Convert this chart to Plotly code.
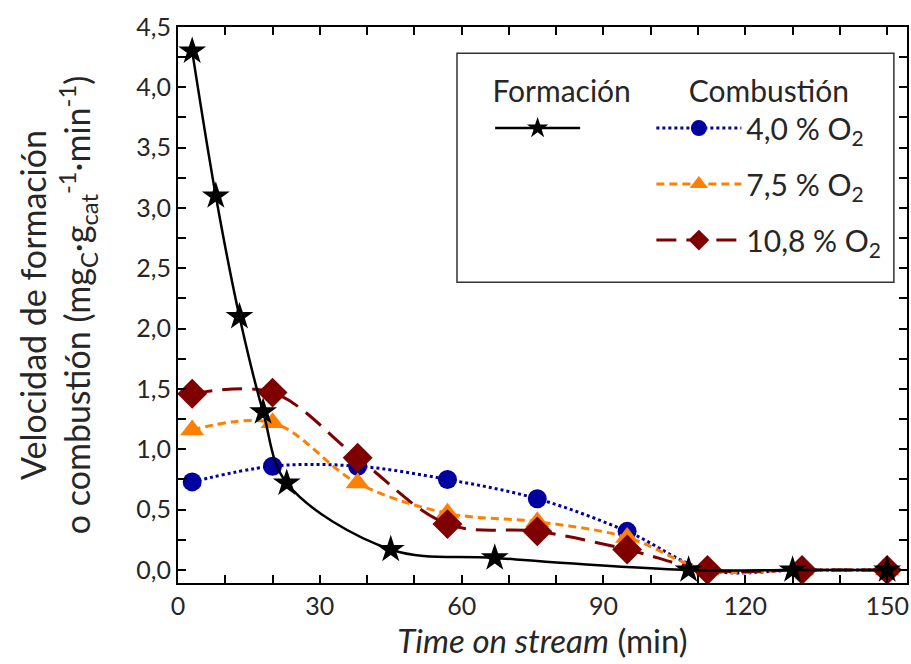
import plotly.graph_objects as go

# Coke formation rate (stars) and combustion rates at three O2 levels
t_form = [3, 8, 13, 18, 23, 45, 67, 108, 130, 150]
v_form = [4.30, 3.10, 2.10, 1.31, 0.72, 0.17, 0.10, 0.0, 0.0, 0.0]

t_comb = [3, 20, 38, 57, 76, 95, 112, 132, 150]
v_o2_40 = [0.73, 0.86, 0.86, 0.75, 0.59, 0.32, 0.0, 0.0, 0.0]
v_o2_75 = [1.16, 1.22, 0.72, 0.47, 0.40, 0.27, 0.0, 0.0, 0.0]
v_o2_108 = [1.46, 1.47, 0.93, 0.38, 0.32, 0.17, 0.0, 0.0, 0.0]

x_ticks = [0, 30, 60, 90, 120, 150]
y_ticks = [0.0, 0.5, 1.0, 1.5, 2.0, 2.5, 3.0, 3.5, 4.0, 4.5]

FONT = "Lato"
TXT = "#262626"

fig = go.Figure()

fig.add_trace(go.Scatter(
    x=t_comb, y=v_o2_40, name="4,0 % O<sub>2</sub>", legend="legend2",
    legendgroup="a", showlegend=True, mode="lines+markers", line_shape="spline",
    line=dict(color="#0000a0", width=3, dash="dot"),
    marker=dict(symbol="circle", size=19, color="#0000a0"),
))
fig.add_trace(go.Scatter(
    x=t_comb, y=v_o2_75, name="7,5 % O<sub>2</sub>", legend="legend2",
    legendgroup="b", showlegend=True, mode="lines+markers", line_shape="spline",
    line=dict(color="#ff8000", width=3, dash="8px,5px"),
    marker=dict(symbol="triangle-up", size=21, color="#ff8000"),
))
fig.add_trace(go.Scatter(
    x=t_comb, y=v_o2_108, name="10,8 % O<sub>2</sub>", legend="legend2",
    legendgroup="c", showlegend=True, mode="lines+markers", line_shape="spline",
    line=dict(color="#7f0000", width=3, dash="20px,10px"),
    marker=dict(symbol="diamond", size=23, color="#7f0000"),
))
fig.add_trace(go.Scatter(
    x=t_form, y=v_form, name="\u00a0", legend="legend", showlegend=True,
    mode="lines+markers", line_shape="spline",
    line=dict(color="black", width=2.5, smoothing=1.0),
    marker=dict(symbol="star", size=21, color="black"),
))

axis_common = dict(
    showline=True, linecolor="black", linewidth=2, mirror="ticks",
    ticks="inside", ticklen=8, tickwidth=2, tickcolor="black",
    showgrid=False, zeroline=False,
    tickfont=dict(family=FONT, size=25, color=TXT),
)

fig.update_xaxes(
    range=[0, 154.2], tickvals=x_ticks,
    minor=dict(dtick=10, ticks="inside", ticklen=8, tickwidth=2, tickcolor="black", showgrid=False),
    title=dict(text="<i>Time on stream</i> (min)", font=dict(family=FONT, size=33, color=TXT), standoff=4),
    **axis_common,
)
fig.update_yaxes(
    range=[-0.108, 4.5], tickvals=y_ticks, tickformat=".1f",
    minor=dict(dtick=0.25, ticks="inside", ticklen=8, tickwidth=2, tickcolor="black", showgrid=False),
    title=dict(
        text="Velocidad de formación<br>o combustión (mg<sub>C</sub>·g<sub>cat</sub><sup>-1</sup>·min<sup>-1</sup>)",
        font=dict(family=FONT, size=34, color=TXT), standoff=35,
    ),
    **axis_common,
)

legend_font = dict(family=FONT, size=30, color=TXT)
fig.update_layout(
    width=911, height=664,
    margin=dict(l=178, r=4, t=27, b=81, autoexpand=False),
    paper_bgcolor="white", plot_bgcolor="white",
    separators=", ",
    showlegend=True,
    font=dict(family=FONT, color=TXT),
    legend=dict(
        title=dict(text="Formación", side="top center", font=legend_font),
        xref="container", yref="container", x=0.538, y=0.905,
        xanchor="left", yanchor="top", itemwidth=85,
        bgcolor="rgba(0,0,0,0)", font=legend_font,
    ),
    legend2=dict(
        title=dict(text="Combustión", side="top center", font=legend_font),
        xref="container", yref="container", x=0.715, y=0.905,
        xanchor="left", yanchor="top", itemwidth=85, tracegroupgap=14,
        bgcolor="rgba(0,0,0,0)", font=legend_font,
    ),
    shapes=[dict(
        type="rect", xref="paper", yref="paper",
        x0=0.3827, x1=0.982, y0=0.541, y1=0.953,
        line=dict(color="#333333", width=1.5), fillcolor="rgba(0,0,0,0)",
    )],
)

fig.write_html("out.html")
